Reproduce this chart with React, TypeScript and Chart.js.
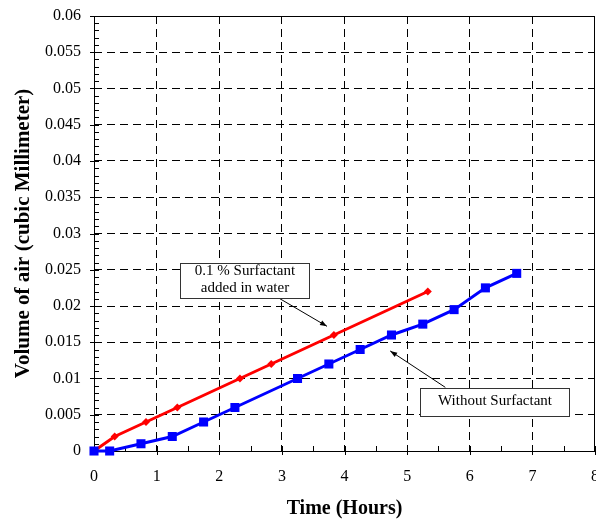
import React, { useEffect, useRef } from 'react';
import { Chart, registerables } from 'chart.js';

Chart.register(...registerables);

// ---- data ----
const timeWithout = [0, 0.25, 0.75, 1.25, 1.75, 2.25, 3.25, 3.75, 4.25, 4.75, 5.25, 5.75, 6.25, 6.75];
const volWithout = [0, 0, 0.001, 0.002, 0.004, 0.006, 0.01, 0.012, 0.014, 0.016, 0.0175, 0.0195, 0.0225, 0.0245];
const timeWith = [0, 0.33, 0.83, 1.33, 2.33, 2.83, 3.83, 5.33];
const volWith = [0, 0.002, 0.004, 0.006, 0.01, 0.012, 0.016, 0.022];

const xTitle = 'Time (Hours)';
const yTitle = 'Volume of air (cubic Millimeter)';
const labelWith = ['0.1 % Surfactant', 'added in water'];
const labelWithout = ['Without Surfactant'];

// annotation anchors in data units
const notes = [
  { lines: labelWith, box: [1.375, 0.0259, 3.44, 0.0211], from: [2.93, 0.0212], to: [3.72, 0.0172] },
  { lines: labelWithout, box: [5.21, 0.00869, 7.59, 0.00483], from: [5.61, 0.00878], to: [4.73, 0.0138] },
];

const FONT = "'Liberation Serif', 'Times New Roman', serif";

const isMult = (v: number, s: number) => Math.abs(v / s - Math.round(v / s)) < 1e-6;

const framePlugin = {
  id: 'frame',
  beforeDatasetsDraw(chart: any) {
    const { ctx, chartArea: a, scales } = chart;
    const x = scales.x;
    const y = scales.y;
    ctx.save();
    ctx.strokeStyle = '#000';
    ctx.lineWidth = 1;
    ctx.beginPath();
    x.ticks.forEach((t: any) => {
      const px = Math.round(x.getPixelForValue(t.value)) + 0.5;
      const major = isMult(t.value, 1);
      ctx.moveTo(px, a.bottom + (major ? 4 : 0));
      ctx.lineTo(px, a.bottom - 5);
    });
    y.ticks.forEach((t: any) => {
      const py = Math.round(y.getPixelForValue(t.value)) + 0.5;
      const major = isMult(t.value, 0.005);
      ctx.moveTo(a.left - (major ? 4 : 0), py);
      ctx.lineTo(a.left + 5, py);
    });
    ctx.stroke();
    ctx.strokeRect(Math.round(a.left) + 0.5, Math.round(a.top) + 0.5, Math.round(a.right - a.left) - 1, Math.round(a.bottom - a.top));
    ctx.restore();
  },
  afterDatasetsDraw(chart: any) {
    const { ctx, scales } = chart;
    const x = scales.x;
    const y = scales.y;
    ctx.save();
    notes.forEach((n) => {
      const l = Math.round(x.getPixelForValue(n.box[0])) + 0.5;
      const t = Math.round(y.getPixelForValue(n.box[1])) + 0.5;
      const r = Math.round(x.getPixelForValue(n.box[2])) + 0.5;
      const b = Math.round(y.getPixelForValue(n.box[3])) + 0.5;
      const x1 = x.getPixelForValue(n.from[0]);
      const y1 = y.getPixelForValue(n.from[1]);
      const x2 = x.getPixelForValue(n.to[0]);
      const y2 = y.getPixelForValue(n.to[1]);
      ctx.strokeStyle = '#000';
      ctx.fillStyle = '#000';
      ctx.lineWidth = 1;
      ctx.beginPath();
      ctx.moveTo(x1, y1);
      ctx.lineTo(x2, y2);
      ctx.stroke();
      const ang = Math.atan2(y2 - y1, x2 - x1);
      const len = 7;
      const wid = 2.5;
      ctx.beginPath();
      ctx.moveTo(x2, y2);
      ctx.lineTo(x2 - len * Math.cos(ang) + wid * Math.sin(ang), y2 - len * Math.sin(ang) - wid * Math.cos(ang));
      ctx.lineTo(x2 - len * Math.cos(ang) - wid * Math.sin(ang), y2 - len * Math.sin(ang) + wid * Math.cos(ang));
      ctx.closePath();
      ctx.fill();
      ctx.fillStyle = '#fff';
      ctx.fillRect(l, t, r - l, b - t);
      ctx.strokeStyle = '#333';
      ctx.strokeRect(l, t, r - l, b - t);
      ctx.fillStyle = '#000';
      ctx.font = `15px ${FONT}`;
      ctx.textAlign = 'center';
      ctx.textBaseline = 'middle';
      const cx = (l + r) / 2;
      const cy = (t + b) / 2;
      const lh = 17;
      n.lines.forEach((s, i) => {
        ctx.fillText(s, cx, cy + (i - (n.lines.length - 1) / 2) * lh - 1);
      });
    });
    ctx.restore();
  },
};

export default function App() {
  const ref = useRef<HTMLCanvasElement | null>(null);
  useEffect(() => {
    if (!ref.current) return;
    Chart.defaults.font.family = FONT;
    Chart.defaults.color = '#000';
    const chart = new Chart(ref.current, {
      type: 'line',
      data: {
        datasets: [
          {
            label: 'Without Surfactant',
            data: timeWithout.map((t, i) => ({ x: t, y: volWithout[i] })),
            borderColor: '#0000FF',
            backgroundColor: '#0000FF',
            borderWidth: 3,
            pointStyle: 'rect',
            pointRadius: 6.4,
            pointBorderWidth: 0,
            tension: 0,
            clip: false,
          } as any,
          {
            label: '0.1 % Surfactant added in water',
            data: timeWith.map((t, i) => ({ x: t, y: volWith[i] })),
            borderColor: '#FF0000',
            backgroundColor: '#FF0000',
            borderWidth: 3,
            pointStyle: 'rectRot',
            pointRadius: 4,
            pointBorderWidth: 0,
            tension: 0,
            clip: false,
          } as any,
        ],
      },
      options: {
        responsive: false,
        animation: false,
        events: [],
        layout: { autoPadding: false, padding: { top: 16, right: 1, left: 0, bottom: 0 } },
        plugins: { legend: { display: false }, tooltip: { enabled: false } },
        scales: {
          x: {
            type: 'linear',
            min: 0,
            max: 8,
            afterFit: (s: any) => {
              s.height = 71;
              s.paddingLeft = 0;
              s.paddingRight = 0;
            },
            ticks: {
              stepSize: 0.5,
              autoSkip: false,
              maxRotation: 0,
              padding: 16,
              font: { size: 16, family: FONT },
              color: '#000',
              callback: (v: any) => (isMult(Number(v), 1) ? String(Math.round(Number(v))) : ''),
            },
            grid: {
              drawTicks: false,
              lineWidth: 1,
              color: (c: any) => {
                const v = c.tick ? c.tick.value : 0;
                return isMult(v, 1) && v > 0 && v < 8 ? '#000' : 'rgba(0,0,0,0)';
              },
            },
            border: { display: false, dash: [8, 5] },
            title: {
              display: true,
              text: xTitle,
              font: { size: 20, weight: 'bold', family: FONT },
              color: '#000',
              padding: { top: 0, bottom: 1 },
            },
          },
          y: {
            type: 'linear',
            min: 0,
            max: 0.06,
            afterFit: (s: any) => {
              s.width = 94;
              s.paddingTop = 0;
              s.paddingBottom = 0;
            },
            ticks: {
              stepSize: 0.001,
              autoSkip: false,
              padding: 13,
              font: { size: 16, family: FONT },
              color: '#000',
              callback: (v: any) => {
                const n = Number(v);
                return isMult(n, 0.005) ? String(Number(n.toFixed(3))) : '';
              },
            },
            grid: {
              drawTicks: false,
              lineWidth: 1,
              color: (c: any) => {
                const v = c.tick ? c.tick.value : 0;
                return isMult(v, 0.005) && v > 0.0001 && v < 0.0599 ? '#000' : 'rgba(0,0,0,0)';
              },
            },
            border: { display: false, dash: [8, 5] },
            title: {
              display: true,
              text: yTitle,
              font: { size: 21, weight: 'bold', family: FONT },
              color: '#000',
              padding: { top: 11, bottom: 0 },
            },
          },
        },
      } as any,
      plugins: [framePlugin],
    });
    return () => chart.destroy();
  }, []);
  return (
    <div style={{ position: 'absolute', left: 0, top: 0, width: 596, height: 522, background: '#fff' }}>
      <canvas ref={ref} width={596} height={522} style={{ display: 'block' }} />
    </div>
  );
}
